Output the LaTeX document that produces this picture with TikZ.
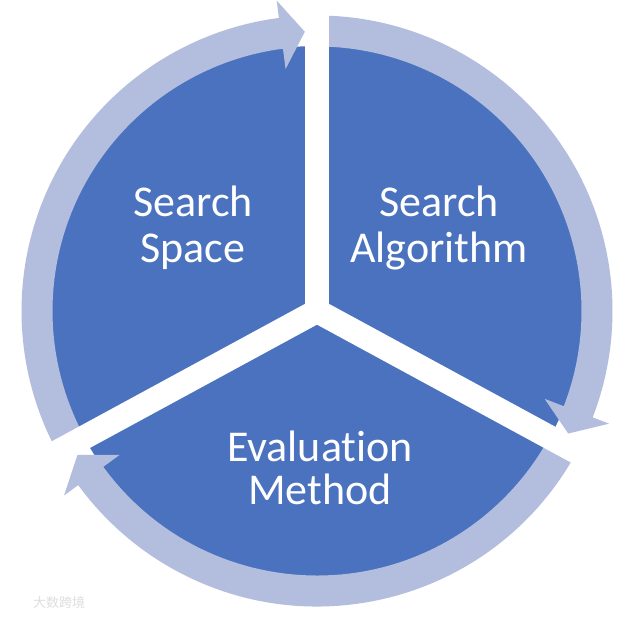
\documentclass[tikz,border=0pt]{standalone}
\usepackage{fontspec}
\setmainfont{Carlito}[Ligatures={NoCommon}]
\newfontfamily\cjk{Noto Sans CJK SC}
\definecolor{pieblue}{HTML}{4A72BE}
\definecolor{ringblue}{HTML}{B3BDDD}
\newcommand\ringarrow[3]{%
  \fill[ringblue] ([shift={(C)}]#1:295.5) arc[start angle=#1, end angle=#2, radius=295.5]
    -- ([shift={(C)}]#2:313) -- ([shift={(C)}]#3:279.5) -- ([shift={(C)}]#2:244)
    -- ([shift={(C)}]#2:264.5) arc[start angle=#2, end angle=#1, radius=264.5] -- cycle;}
\begin{document}
\begin{tikzpicture}[x=1pt,y=1pt,
  gapbar/.style={line width=24pt, white, line cap=round},
  lbl/.style={text=white, font=\fontsize{44}{46}\selectfont, align=center, anchor=base}]
\useasboundingbox (0,0) rectangle (634,618);
\clip (0,0) rectangle (634,618);
\fill[white] (0,0) rectangle (634,618);
\coordinate (C) at (317,307);
\fill[pieblue] (C) circle (265);
\ringarrow{208.5}{97.4}{92.5}
\ringarrow{90}{-21.1}{-26}
\ringarrow{331.5}{216.1}{211}
\coordinate (t1) at ([shift={(C)}]90:345);
\coordinate (t2) at ([shift={(C)}]-28.5:345);
\coordinate (t3) at ([shift={(C)}]208.5:345);
\draw[gapbar] (C) -- (t1);
\draw[gapbar] (C) -- (t2);
\draw[gapbar] (C) -- (t3);
\node[lbl] (space) at (193,355) {Search\\Space};
\node[lbl] (algo) at (439,355) {Search\\Algorithm};
\node[lbl, font=\fontsize{44}{43}\selectfont] (eval) at (320,113) {Evaluation\\Method};
\node[text=black!13, font=\cjk\fontsize{13}{13}\selectfont, anchor=base west, inner sep=0pt] (wm) at (33,11) {大数跨境};
\end{tikzpicture}
\end{document}
